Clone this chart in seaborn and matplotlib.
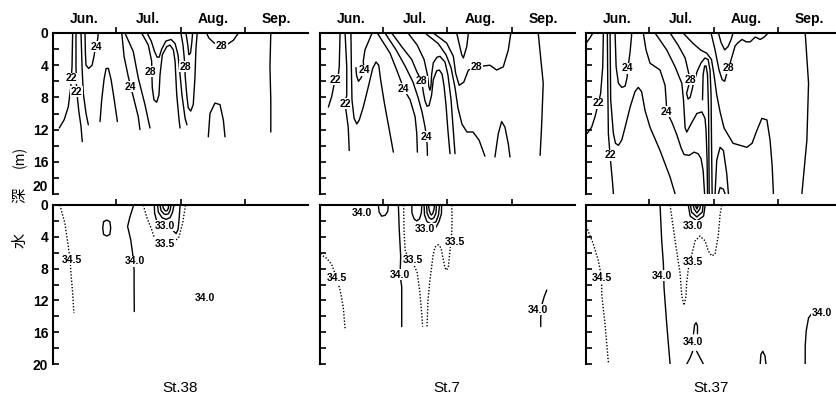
import matplotlib
matplotlib.use("Agg")
import matplotlib.pyplot as plt
import pandas as pd
import seaborn as sns

# ---------------- axes data ----------------
stations = ["St.38", "St.7", "St.37"]
months = ["Jun.", "Jul.", "Aug.", "Sep."]
month_starts = [30, 61, 92]          # days since 1 June (Jul 1, Aug 1, Sep 1)
month_mids = [15, 45.5, 76.5, 107]
depth_major = [0, 4, 8, 12, 16, 20]
depth_minor = [2, 6, 10, 14, 18]

# ---------------- St.38 temperature (day since 1 Jun, depth m) ----------------
st38_t_solid = [
    [(9.4, 0), (9.1, 4.2), (8.5, 6.7), (7.3, 9.2), (5.3, 10.8), (3.0, 11.8)],
    [(11.0, 0), (11.0, 4.2), (11.3, 7.1), (12.3, 9.6), (13.4, 11.6), (14.0, 13.5)],
    [(13.4, 0), (13.9, 4.2), (14.5, 7.5), (15.8, 10.0), (16.9, 11.4)],
    [(15.3, 0), (15.5, 2.5), (15.8, 4.0), (17.1, 4.4), (18.7, 4.0), (19.6, 2.9), (20.1, 2.1), (20.9, 1.4), (21.4, 0.7), (21.7, 0)],
    [(22.5, 11.0), (23.3, 8.3), (24.4, 5.8), (25.4, 4.4), (26.5, 4.4), (27.8, 5.8), (29.3, 8.3), (30.8, 11.0)],
    [(32.9, 0), (34.0, 2.9), (36.0, 5.4), (37.2, 6.7), (38.4, 7.9), (40.8, 10.4), (41.6, 12.0)],
    [(34.4, 0), (38.4, 2.3), (40.8, 5.6), (44.0, 8.9), (46.4, 11.8)],
    [(42.4, 0), (45.6, 1.5), (47.2, 3.5), (47.3, 5.0), (47.5, 6.8), (48.3, 8.3), (49.6, 8.6), (50.7, 7.7), (51.2, 5.2), (52.3, 2.7), (54.4, 1.7), (56.0, 1.5), (57.6, 2.1), (58.4, 3.5), (59.2, 7.7), (60.4, 11.0), (60.8, 11.8)],
    [(45.0, 0), (47.0, 1.0), (48.6, 2.3), (49.8, 3.0), (50.8, 3.0), (52.0, 2.0), (54.0, 1.0), (56.5, 0.8), (58.4, 1.3), (59.8, 2.7), (60.8, 5.2), (61.7, 7.7), (63.2, 10.6), (64.1, 11.4)],
    [(61.2, 0), (62.2, 1.5), (63.2, 4.2), (63.2, 5.2), (64.0, 7.7), (64.7, 9.3), (65.9, 9.7), (67.1, 8.9), (67.9, 5.6), (68.4, 1.9), (69.0, 0)],
    [(63.6, 0), (64.5, 1.5), (65.0, 2.7), (65.8, 2.5), (66.4, 1.2), (66.8, 0)],
    [(73.5, 0), (74.5, 0.6), (76.5, 1.1), (78.5, 1.5), (80.7, 1.6), (83.5, 1.4), (86.3, 0.9), (88.7, 0)],
    [(74.3, 12.9), (75.1, 10.0), (77.5, 8.7), (79.9, 8.9), (81.5, 10.8), (82.3, 12.9)],
    [(104.2, 0), (103.8, 4.2), (104.2, 8.3), (104.2, 12.3)],
]
st38_t_labels = [(8.9, 5.6, "22"), (11.3, 7.3, "22"), (20.9, 1.7, "24"), (37.2, 6.7, "24"),
                 (46.7, 4.8, "28"), (63.2, 4.2, "28"), (80.7, 1.6, "28")]

# ---------------- St.38 salinity ----------------
st38_s_solid = [
    [(24.2, 2.1), (25.7, 1.9), (27.2, 2.1), (27.6, 2.9), (27.2, 3.7), (25.7, 3.9), (24.2, 3.7), (23.8, 2.9), (24.2, 2.1)],
    [(38.6, 0), (36.8, 1.5), (35.7, 2.7), (37.2, 4.4), (38.1, 6.1), (38.8, 8.2), (38.8, 10.7), (38.9, 13.4)],
    [(48.5, 0), (48.6, 1.0), (49.5, 1.9), (53.6, 2.5), (56.9, 2.5), (57.7, 3.3), (58.9, 3.6), (59.8, 3.1), (60.3, 1.9), (60.8, 0)],
    [(50.0, 0), (50.4, 0.9), (52.2, 1.6), (54.1, 1.8), (56.0, 1.6), (57.2, 0.9), (57.9, 0)],
    [(51.2, 0), (51.7, 0.7), (53.0, 1.1), (54.1, 1.2), (55.2, 1.1), (56.0, 0.7), (56.5, 0)],
    [(52.4, 0), (52.8, 0.4), (53.6, 0.7), (54.1, 0.75), (54.6, 0.7), (55.2, 0.4), (55.3, 0)],
]
st38_s_dotted = [
    [(3.3, 0), (5.7, 2.3), (7.3, 5.2), (8.2, 7.0), (8.6, 8.6), (9.4, 11.1), (10.0, 13.6)],
    [(43.2, 0), (44.8, 1.5), (47.2, 3.1), (48.8, 4.4), (53.6, 5.0), (57.5, 4.8), (60.3, 4.0), (62.0, 2.3), (63.2, 0.4), (63.4, 0)],
]
st38_s_labels = [(8.9, 6.9, "34.5"), (39.2, 7.1, "34.0"), (53.6, 2.6, "33.0"), (53.6, 4.9, "33.5"), (72.7, 11.7, "34.0")]

# ---------------- St.7 temperature ----------------
st7_t_solid = [
    [(9.6, 0), (9.2, 4.2), (8.8, 5.2), (7.2, 5.8), (5.6, 7.9), (4.0, 9.2)],
    [(12.0, 0), (12.8, 4.2), (12.8, 7.7), (12.0, 8.75), (13.5, 11.7), (14.0, 14.6)],
    [(14.8, 0), (15.0, 4.2), (15.3, 8.3), (16.3, 10.6), (17.6, 11.3), (18.8, 10.8), (20.7, 9.2), (23.1, 6.7), (25.2, 4.4), (26.8, 3.6), (28.1, 4.0), (29.0, 5.8), (30.8, 8.7), (33.2, 12.1), (35.1, 14.8)],
    [(24.9, 0), (23.3, 1.0), (21.5, 2.1), (20.7, 3.5), (21.0, 4.6), (19.6, 5.6), (18.4, 6.0), (17.5, 5.3), (17.2, 4.3)],
    [(27.4, 0), (33.5, 2.5), (36.7, 4.6), (39.1, 6.25), (39.9, 6.9), (43.1, 8.3), (45.5, 10.4), (46.3, 12.5), (46.6, 14.8)],
    [(31.1, 0), (36.4, 2.1), (40.7, 4.1), (44.5, 6.1), (46.9, 8.0), (48.8, 9.8), (50.2, 11.6), (51.0, 12.9), (51.3, 14.2), (51.4, 15.2)],
    [(34.3, 0), (39.1, 1.7), (43.9, 3.3), (46.3, 4.8), (48.7, 6.0), (49.4, 7.3), (50.2, 8.4), (51.2, 9.1), (52.2, 9.0), (53.4, 7.7), (54.2, 5.8), (55.8, 4.7), (57.1, 4.6), (58.4, 5.1), (59.3, 6.5), (60.3, 9.0), (61.2, 12.1), (62.2, 15.0)],
    [(42.1, 0), (46.5, 1.5), (49.8, 3.3), (51.4, 5.2), (52.0, 6.6), (52.6, 7.1), (53.1, 6.6), (53.4, 5.2), (54.2, 3.7), (56.0, 3.0), (57.4, 2.9), (59.8, 3.6), (61.2, 5.2), (62.7, 8.3), (63.6, 11.5), (64.6, 15.0)],
    [(50.2, 0), (56.5, 1.3), (60.3, 2.7), (62.7, 4.3), (64.6, 6.8), (66.0, 9.3), (67.9, 11.3), (70.3, 12.3), (73.2, 12.3), (76.1, 13.3), (78.9, 15.3)],
    [(54.2, 0), (60.6, 1.25), (63.8, 2.9), (64.9, 5.0), (66.6, 6.5), (68.8, 6.1), (71.0, 4.6), (74.9, 4.2), (81.3, 4.0), (84.5, 4.6), (87.7, 4.2), (90.1, 2.1), (91.3, 0)],
    [(65.4, 0), (67.8, 2.7), (68.6, 3.1), (70.2, 1.7), (71.0, 0)],
    [(83.7, 15.4), (85.3, 12.5), (86.9, 11.0), (88.5, 11.7), (90.1, 13.8), (90.9, 15.4)],
    [(104.4, 0), (106.8, 6.25), (106.0, 11.7), (105.3, 15.2)],
]
st7_t_labels = [(7.2, 5.8, "22"), (12.0, 8.8, "22"), (21.0, 4.6, "24"), (39.9, 6.9, "24"),
                (48.7, 6.0, "28"), (75.0, 4.2, "28"), (51.0, 12.9, "24")]

# ---------------- St.7 salinity ----------------
st7_s_solid = [
    [(27.9, 0), (28.3, 0.9), (29.5, 1.4), (31.2, 1.3), (32.4, 0.8), (32.7, 0)],
    [(37.5, 0), (37.9, 3.0), (38.6, 6.5), (38.3, 8.8), (39.1, 10.3), (39.1, 15.3)],
    [(43.9, 0), (44.0, 1.0), (45.0, 1.75), (46.3, 2.0), (47.6, 1.75), (48.5, 1.0), (48.7, 0)],
    [(49.8, 0), (50.0, 1.26), (51.2, 2.1), (53.3, 2.4), (55.5, 2.1), (56.7, 1.26), (57.2, 0)],
    [(51.0, 0), (51.2, 1.0), (52.2, 1.6), (53.3, 1.8), (54.5, 1.6), (55.5, 1.0), (55.7, 0)],
    [(51.9, 0), (52.2, 0.6), (52.8, 1.1), (53.3, 1.26), (53.9, 1.1), (54.5, 0.6), (54.8, 0)],
    [(58.2, 0), (58.1, 1.1), (56.9, 2.1), (55.5, 2.8)],
    [(108.5, 10.7), (107.3, 11.5), (106.3, 12.4), (105.6, 14.2), (105.6, 15.3)],
]
st7_s_dotted = [
    [(40.0, 0), (40.2, 3.2), (40.8, 5.9), (43.9, 6.9), (46.5, 8.5), (47.8, 11.0), (48.6, 13.5), (49.1, 15.3)],
    [(63.0, 0), (63.2, 1.9), (63.0, 3.6), (62.2, 5.7), (61.4, 7.8), (60.5, 8.2), (59.8, 7.9), (59.0, 6.9), (57.9, 5.4), (56.6, 5.0), (55.0, 5.3), (54.1, 6.3), (53.4, 7.8), (52.6, 9.4), (51.7, 11.9), (51.2, 15.3)],
    [(0.0, 6.2), (0.8, 6.3), (3.2, 6.7), (5.6, 7.5), (8.0, 9.2), (9.6, 10.7), (11.1, 12.8), (12.0, 15.5)],
]
st7_s_labels = [(20.0, 1.0, "34.0"), (50.2, 3.0, "33.0"), (44.6, 6.9, "33.5"), (38.3, 8.8, "34.0"),
                (64.6, 4.6, "33.5"), (8.0, 9.2, "34.5"), (104.4, 13.2, "34.0")]

# ---------------- St.37 temperature ----------------
st37_t_solid = [
    [(0.0, 1.3), (1.9, 0.6), (3.3, 0)],
    [(8.3, 0), (8.0, 4.2), (7.0, 7.5), (5.9, 8.75), (4.3, 10.4), (2.7, 11.7), (0.5, 12.5)],
    [(10.2, 0), (10.4, 6.25), (10.7, 12.5), (11.5, 15.2), (12.6, 18.3), (13.1, 20)],
    [(11.5, 0), (11.8, 8.3), (13.1, 12.5), (14.1, 13.7), (15.5, 13.96), (17.1, 13.3), (18.7, 11.7), (21.1, 9.2), (23.4, 7.3), (25.0, 6.75), (26.6, 7.3), (28.2, 9.6), (30.6, 11.7), (35.4, 14.6), (40.2, 17.9), (42.6, 20)],
    [(13.9, 0), (14.4, 4.2), (15.5, 6.25), (17.1, 6.75), (18.7, 6.6), (19.6, 5.6), (20.1, 4.3), (21.1, 2.3), (21.9, 0)],
    [(27.4, 0), (28.7, 2.1), (30.6, 3.75), (35.4, 4.6), (37.8, 6.5), (38.3, 8.3), (38.6, 9.8), (41.1, 11.1), (43.5, 12.7), (45.5, 14.3), (46.9, 15.1), (49.3, 15.2), (51.7, 14.8), (53.6, 15.0), (55.0, 15.6), (56.0, 17.1), (56.7, 20)],
    [(33.0, 0), (38.6, 2.1), (42.6, 4.2), (45.8, 6.25), (46.6, 8.3), (47.4, 11.8), (48.2, 12.3), (49.8, 11.5), (53.0, 10.0), (55.4, 9.8), (56.9, 10.6), (57.4, 12.1), (57.9, 15.8), (58.1, 20)],
    [(40.2, 0), (44.0, 1.5), (47.4, 3.1), (49.8, 5.8), (48.1, 7.5), (48.8, 8.2), (49.8, 8.0), (51.2, 6.5), (53.1, 4.8), (55.0, 3.7), (56.9, 3.1), (58.4, 3.3), (59.3, 4.6), (59.8, 7.7), (60.0, 13.3), (60.3, 20)],
    [(55.7, 8.3), (56.0, 5.2), (56.7, 4.1), (57.4, 4.1), (58.1, 5.2), (58.6, 9.6), (58.9, 20)],
    [(46.4, 0), (51.2, 1.3), (55.0, 2.15), (57.7, 2.5), (60.0, 3.3), (61.2, 5.2), (62.5, 7.7), (64.1, 9.8), (66.0, 11.8), (70.3, 13.7), (76.9, 14.2), (79.4, 13.7), (81.7, 12.1), (84.1, 10.6), (86.5, 10.8), (88.0, 13.3), (89.0, 16.5), (89.6, 20)],
    [(59.8, 0), (61.7, 2.1), (63.6, 4.6), (65.1, 5.8), (66.3, 6.0), (67.0, 5.3), (68.2, 4.4), (69.4, 3.3), (71.3, 1.6), (72.7, 1.2), (74.6, 0.8), (76.6, 1.1), (78.5, 1.1), (80.9, 0.5), (83.3, 0.8), (85.2, 0.5), (87.1, 0)],
    [(63.3, 0), (64.6, 1.2), (66.3, 2.1), (67.9, 1.7), (69.4, 0.8), (70.3, 0)],
    [(61.7, 20), (62.5, 15.8), (64.1, 14.2), (65.7, 14.6), (67.3, 17.5), (68.1, 20)],
    [(63.3, 20), (64.1, 19.2), (65.7, 19.4), (66.5, 20)],
    [(104.8, 0), (106.4, 6.25), (105.6, 13.3), (103.2, 20)],
]
st37_t_labels = [(20.0, 4.4, "24"), (5.9, 8.75, "22"), (11.5, 15.2, "22"), (49.8, 5.8, "28"),
                 (38.6, 9.8, "24"), (68.2, 4.4, "28")]

# ---------------- St.37 salinity ----------------
st37_s_solid = [
    [(35.4, 0), (36.2, 4.5), (37.0, 7.4), (37.3, 10.4), (38.6, 15.0), (40.2, 20)],
    [(48.9, 0), (49.8, 1.4), (53.0, 2.0), (56.2, 1.4), (57.0, 0)],
    [(49.9, 0), (50.5, 0.9), (53.0, 1.5), (55.6, 0.9), (56.0, 0)],
    [(51.2, 0), (51.7, 0.5), (53.0, 1.0), (54.4, 0.5), (54.8, 0)],
    [(52.2, 0), (53.0, 0.5), (53.8, 0)],
    [(51.4, 16.2), (51.9, 15.1), (52.6, 14.8), (53.3, 15.2), (53.3, 16.2)],
    [(48.2, 20), (49.8, 19.2), (51.0, 18.4)],
    [(52.9, 18.4), (54.5, 19.2), (56.1, 20)],
    [(83.3, 20), (83.6, 18.8), (84.5, 18.4), (85.6, 19.0), (86.0, 20)],
    [(108.1, 13.6), (106.4, 14.2), (105.3, 15.8), (104.8, 17.7), (104.8, 20)],
]
st37_s_dotted = [
    [(0.0, 2.7), (0.3, 2.8), (3.5, 4.9), (5.9, 7.0), (7.5, 9.2), (7.5, 11.2), (9.1, 15.0), (10.7, 19.8)],
    [(40.2, 0), (42.6, 4.5), (45.0, 8.6), (45.8, 11.5), (46.9, 12.6), (47.8, 11.5), (48.1, 9.8), (48.9, 8.1), (50.2, 6.6), (52.2, 4.5), (54.5, 3.9), (56.9, 4.5), (58.5, 5.8), (60.1, 6.4), (61.7, 6.2), (63.3, 3.7), (64.1, 1.2), (64.9, 0)],
]
st37_s_labels = [(7.5, 9.2, "34.5"), (36.2, 8.9, "34.0"), (51.3, 2.6, "33.0"), (51.3, 7.2, "33.5"),
                 (51.3, 17.2, "34.0"), (112.8, 13.6, "34.0")]

# ---------------- drawing ----------------
sns.set_theme(style="white", rc={"axes.edgecolor": "black", "xtick.color": "black",
                                 "ytick.color": "black", "text.color": "black"})
plt.rcParams["font.family"] = ["Liberation Sans", "DejaVu Sans"]

W, H = 837, 403
fig = plt.figure(figsize=(W / 100, H / 100), dpi=100)
fig.patch.set_facecolor("white")

col_left = [53, 320, 586]
col_width = [255, 255, 251]
col_xmax = [122, 122, 120]
row_top = [33, 205]
row_height = [161, 159]

panels = [
    [(st38_t_solid, [], st38_t_labels), (st7_t_solid, [], st7_t_labels), (st37_t_solid, [], st37_t_labels)],
    [(st38_s_solid, st38_s_dotted, st38_s_labels), (st7_s_solid, st7_s_dotted, st7_s_labels),
     (st37_s_solid, st37_s_dotted, st37_s_labels)],
]


def to_frame(lines):
    rows = []
    for i, line in enumerate(lines):
        for d, z in line:
            rows.append({"day": d, "depth": z, "line": i})
    return pd.DataFrame(rows)


for r in range(2):
    for c in range(3):
        solid, dotted, labels = panels[r][c]
        ax = fig.add_axes([col_left[c] / W, 1 - (row_top[r] + row_height[r]) / H,
                           col_width[c] / W, row_height[r] / H])
        if solid:
            sns.lineplot(data=to_frame(solid), x="day", y="depth", units="line", estimator=None,
                         sort=False, color="black", lw=1.0, ax=ax, legend=False)
        if dotted:
            sns.lineplot(data=to_frame(dotted), x="day", y="depth", units="line", estimator=None,
                         sort=False, color="black", lw=1.0, ls=(0, (1, 1.3)), ax=ax, legend=False)
        for d, z, t in labels:
            ax.text(d, z, t, ha="center", va="center", fontsize=7.5, fontweight="bold",
                    bbox=dict(boxstyle="square,pad=0.05", facecolor="white", edgecolor="none"))

        ax.set_xlim(0, col_xmax[c])
        ax.set_ylim(20, 0)
        ax.set_xlabel("")
        ax.set_ylabel("")
        ax.set_facecolor("white")
        for s in ["right", "bottom"]:
            ax.spines[s].set_visible(False)
        for s in ["top", "left"]:
            ax.spines[s].set_linewidth(1.5)
            ax.spines[s].set_color("black")

        ax.set_xticks(month_starts)
        ax.set_xticklabels([])
        ax.set_xticks(month_mids, minor=True)
        if r == 0:
            ax.set_xticklabels(months, minor=True, fontsize=10, fontweight="bold")
        else:
            ax.set_xticklabels([], minor=True)
        ax.tick_params(axis="x", which="major", direction="out", length=4, width=1.2,
                       top=True, bottom=False, labeltop=True, labelbottom=False)
        ax.tick_params(axis="x", which="minor", length=0, top=True, bottom=False,
                       labeltop=True, labelbottom=False, pad=5)

        ax.set_yticks(depth_major)
        ax.set_yticks(depth_minor, minor=True)
        if c == 0:
            ax.set_yticklabels([str(v) for v in depth_major], fontsize=10, fontweight="bold")
            if r == 0:
                # keep the lower "20" clear of the "0" of the panel below
                ax.yaxis.get_major_ticks()[-1].label1.set_verticalalignment("bottom")
        else:
            ax.set_yticklabels([])
        ax.tick_params(axis="y", which="both", direction="in", length=4, width=1.2,
                       left=True, right=False, pad=3.5)

# y-axis title (vertical) and station names
cjk = ["Noto Sans CJK JP", "DejaVu Sans"]
fig.text(20 / W, 1 - 240 / H, "水", rotation=90, ha="center", va="center", fontsize=11, family=cjk)
fig.text(20 / W, 1 - 195 / H, "深", rotation=90, ha="center", va="center", fontsize=11, family=cjk)
fig.text(20 / W, 1 - 157 / H, "(m)", rotation=90, ha="center", va="center", fontsize=10, family=cjk)

for name, cx in zip(stations, [180, 447, 711]):
    fig.text(cx / W, 1 - 388 / H, name, ha="center", va="center", fontsize=11)

fig.savefig("out.png", dpi=100, facecolor="white")
